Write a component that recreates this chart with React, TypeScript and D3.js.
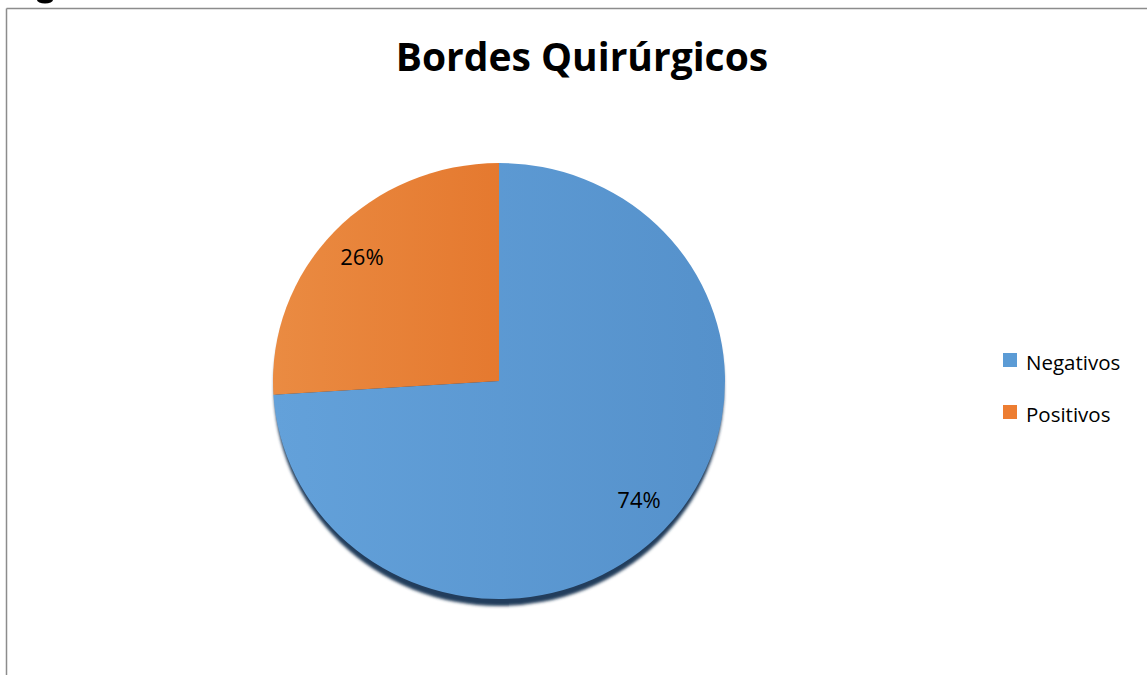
import React from "react";
import * as d3 from "d3";

const categories = ["Negativos", "Positivos"];
const values = [74, 26];
const labels = ["74%", "26%"];
const colors = ["#5b9bd5", "#ed7d31"];
const gradStops = [
  ["#63a1da", "#5591cb"],
  ["#ea8b42", "#e5792f"],
];
const title = "Bordes Quirúrgicos";

const W = 1147;
const H = 675;
const cx = 499;
const cy = 381;
const rx = 226;
const ry = 218;
const FONT = "'Open Sans', Carlito, Calibri, sans-serif";

export default function App() {
  const pie = d3
    .pie<number>()
    .sort(null)
    .value((d) => d);
  const arcs = pie(values);
  const arc = d3.arc<d3.PieArcDatum<number>>().innerRadius(0).outerRadius(rx);
  const labelR = 188;
  const sy = ry / rx;

  return (
    <svg
      width={W}
      height={H}
      style={{ position: "absolute", left: 0, top: 0, background: "#fff" }}
    >
      <defs>
        {gradStops.map((s, i) => (
          <linearGradient key={i} id={`g${i}`} x1="0" y1="0" x2="1" y2="0">
            <stop offset="0" stopColor={s[0]} />
            <stop offset="1" stopColor={s[1]} />
          </linearGradient>
        ))}
        <filter id="blur" x="-10%" y="-10%" width="120%" height="120%">
          <feGaussianBlur stdDeviation="1.4" />
        </filter>
      </defs>
      <rect x={0} y={0} width={W} height={H} fill="#fff" />
      {/* fragment of a glyph from the surrounding document */}
      <ellipse cx={45} cy={0} rx={8} ry={3.5} fill="#000" />
      {/* chart frame */}
      <line x1={6.5} y1={8.5} x2={W} y2={8.5} stroke="#8c8c8c" strokeWidth={1.5} />
      <line x1={6.5} y1={8.5} x2={6.5} y2={H} stroke="#8c8c8c" strokeWidth={1.5} />

      <text
        x={582}
        y={71}
        textAnchor="middle"
        fontFamily={FONT}
        fontWeight="bold"
        fontSize={39}
        fill="#000"
      >
        {title}
      </text>

      {/* shadow */}
      <ellipse cx={cx} cy={cy + 7} rx={rx - 1} ry={ry} fill="#213d5b" filter="url(#blur)" />

      <g transform={`translate(${cx},${cy}) scale(1,${sy})`}>
        {arcs.map((a, i) => (
          <path key={i} d={arc(a) || ""} fill={`url(#g${i})`} />
        ))}
      </g>

      {arcs.map((a, i) => {
        const mid = (a.startAngle + a.endAngle) / 2;
        const x = cx + labelR * Math.sin(mid);
        const y = cy - labelR * sy * Math.cos(mid);
        return (
          <text
            key={i}
            x={x + (i === 0 ? 3 : 0)}
            y={y + (i === 0 ? -5 : 0)}
            dy="0.35em"
            textAnchor="middle"
            fontFamily={FONT}
            fontSize={22}
            fill="#000"
          >
            {labels[i]}
          </text>
        );
      })}

      {categories.map((c, i) => (
        <g key={c} transform={`translate(1003,${353 + i * 52})`}>
          <rect x={0} y={0} width={14} height={14} fill={colors[i]} />
          <text x={23} y={16.5} fontFamily={FONT} fontSize={20.5} fill="#000">
            {c}
          </text>
        </g>
      ))}
    </svg>
  );
}
